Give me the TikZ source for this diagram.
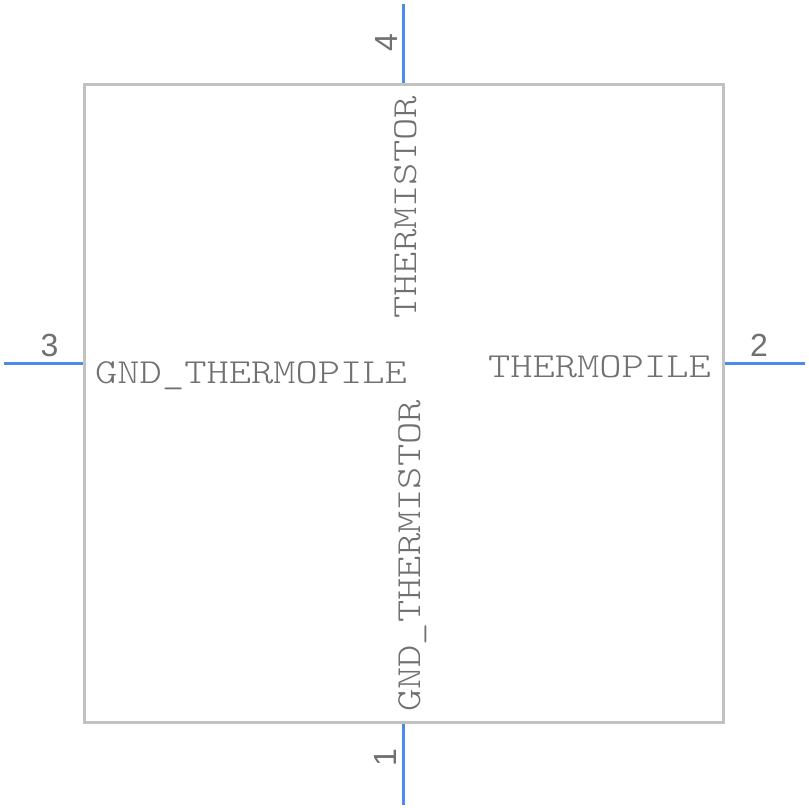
\documentclass[tikz,border=0pt]{standalone}
\usepackage{fontspec}
\newfontfamily\cour[FakeStretch=1.205]{Latin Modern Mono Light}
\newfontfamily\pinfont{Liberation Sans}
\definecolor{boxgray}{RGB}{194,194,194}
\definecolor{pinblue}{RGB}{74,139,238}
\definecolor{txtgray}{RGB}{112,112,112}
\begin{document}
\begin{tikzpicture}[x=1pt,y=-1pt,
  lbl/.style={inner sep=0pt, text=txtgray, font=\cour\fontsize{35.2}{40}\selectfont},
  pnum/.style={inner sep=0pt, text=txtgray, font=\pinfont\fontsize{32}{36}\selectfont},
  pinline/.style={draw=pinblue, line width=3pt},
  body/.style={draw=boxgray, line width=3pt}]
\useasboundingbox (0,0) rectangle (808,808);
\draw[body] (84,84) rectangle (723,722);
% pin end points
\coordinate (p4a) at (403,4);   \coordinate (p4b) at (403,82.5);
\coordinate (p1a) at (403,723.5); \coordinate (p1b) at (403,805);
\coordinate (p3a) at (4,363);   \coordinate (p3b) at (82.5,363);
\coordinate (p2a) at (724.5,363); \coordinate (p2b) at (805,363);
\draw[pinline] (p4a) -- (p4b);
\draw[pinline] (p1a) -- (p1b);
\draw[pinline] (p3a) -- (p3b);
\draw[pinline] (p2a) -- (p2b);
% labels
\node[lbl, anchor=base west] (gtp) at (95,383) {GND\_THERMOPILE};
\node[lbl, anchor=base east] (tp) at (711,377) {THERMOPILE};
\node[lbl, anchor=base west, rotate=90] (ts) at (416,319) {THERMISTOR};
\node[lbl, anchor=base west, rotate=90] (gts) at (420,712) {GND\_THERMISTOR};
% pin numbers
\node[pnum, anchor=base] (n3) at (49.5,356) {3};
\node[pnum, anchor=base] (n2) at (759,356) {2};
\node[pnum, anchor=base, rotate=90] (n4) at (397,43) {4};
\node[pnum, anchor=base, rotate=90] (n1) at (396,758) {1};
\end{tikzpicture}
\end{document}
